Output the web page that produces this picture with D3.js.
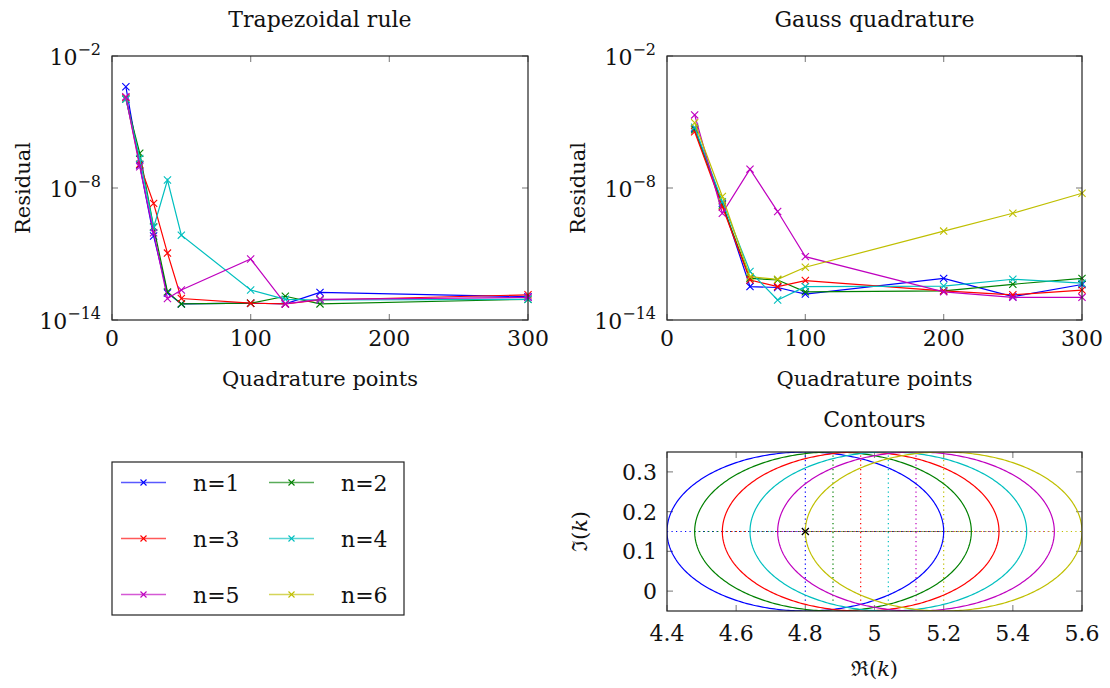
<!DOCTYPE html>
<html>
<head>
<meta charset="utf-8">
<script src="https://cdn.jsdelivr.net/npm/d3@7"></script>
<style>
  html, body { margin: 0; padding: 0; background: #fff; }
  svg { display: block; }
  svg text { font-family: 'DejaVu Serif', serif; }
</style>
</head>
<body>
<svg id="fig" width="1110" height="688"></svg>
<script>
// ---- data ----
const seriesNames = ["n=1", "n=2", "n=3", "n=4", "n=5", "n=6"];
const seriesColors = ["#0000ff", "#008000", "#ff0000", "#00bfbf", "#bf00bf", "#bfbf00"];

// Trapezoidal rule residuals (n=1..5)
const trapPoints = [10, 20, 30, 40, 50, 100, 125, 150, 300];
const trapN1 = [4.0e-4, 1.1e-7, 6.6e-11, 1.7e-13, 5.4e-14, 5.8e-14, 5.4e-14, 1.8e-13, 1.15e-13];
const trapN2 = [1.1e-4, 3.8e-7, 1.7e-10, 1.9e-13, 5.4e-14, 5.8e-14, 1.2e-13, 5.4e-14, 8.7e-14];
const trapN3 = [1.3e-4, 1.2e-7, 2.0e-9, 1.1e-11, 9.5e-14, 5.8e-14, 5.4e-14, 8.1e-14, 1.4e-13];
const trapN4 = [1.1e-4, 2.2e-7, 1.6e-10, 2.3e-8, 7.2e-11, 2.3e-13, 8.7e-14, 8.1e-14, 8.7e-14];
const trapN5 = [1.4e-4, 9.3e-8, 9.3e-11, 9.5e-14, 2.3e-13, 5.9e-12, 5.4e-14, 8.7e-14, 1.07e-13];

// Gauss quadrature residuals (n=1..6)
const gaussPoints = [20, 40, 60, 80, 100, 200, 250, 300];
const gaussN1 = [5.1e-6, 2.0e-9, 3.3e-13, 3.0e-13, 1.5e-13, 7.8e-13, 1.15e-13, 4.1e-13];
const gaussN2 = [4.4e-6, 1.7e-9, 7.8e-13, 6.6e-13, 1.9e-13, 2.1e-13, 4.2e-13, 7.8e-13];
const gaussN3 = [3.6e-6, 1.4e-9, 6.6e-13, 3.3e-13, 6.2e-13, 2.1e-13, 1.4e-13, 2.3e-13];
const gaussN4 = [5.8e-6, 2.4e-9, 1.6e-12, 8.1e-14, 3.3e-13, 3.5e-13, 7.1e-13, 4.7e-13];
const gaussN5 = [2.1e-5, 7.1e-10, 7.2e-8, 8.5e-10, 7.6e-12, 1.9e-13, 1.07e-13, 1.07e-13];
const gaussN6 = [9.3e-6, 4.1e-9, 9.3e-13, 7.1e-13, 2.5e-12, 1.1e-10, 7.1e-10, 5.8e-9];

// Contours: ellipse centres on the real axis, common imaginary centre and radii
const contourCentersRe = [4.8, 4.88, 4.96, 5.04, 5.12, 5.2];
const contourCenterIm = 0.15;
const contourRadiusRe = 0.4;
const contourRadiusIm = 0.2;
const contourPoint = [4.8, 0.15];

// tick labels
const xTicksResidual = [0, 100, 200, 300];
const yTickExponents = [-2, -8, -14];
const xTicksContour = [4.4, 4.6, 4.8, 5, 5.2, 5.4, 5.6];
const yTicksContour = [0, 0.1, 0.2, 0.3];

// ---- drawing ----
const svg = d3.select("#fig");
const FS = 22;
const LFS = 21;
const textColor = "#111";
const frameColor = "#222";
const tickColor = "#8c8c8c";
const TL = 6;

function cross(g, x, y, r, color, width) {
  g.append("path")
    .attr("d", `M${x - r},${y - r}L${x + r},${y + r}M${x - r},${y + r}L${x + r},${y - r}`)
    .attr("stroke", color).attr("stroke-width", width).attr("fill", "none");
}

function label(g, x, y, size, anchor) {
  return g.append("text").attr("x", x).attr("y", y).attr("font-size", size)
    .attr("text-anchor", anchor).attr("fill", textColor);
}

function inwardTicks(g, scale, values, orient, x0, x1, y0, y1) {
  values.forEach(v => {
    const p = scale(v);
    if (orient === "x") {
      g.append("line").attr("x1", p).attr("x2", p).attr("y1", y1).attr("y2", y1 - TL)
        .attr("stroke", tickColor).attr("stroke-width", 1.2);
      g.append("line").attr("x1", p).attr("x2", p).attr("y1", y0).attr("y2", y0 + TL)
        .attr("stroke", tickColor).attr("stroke-width", 1.2);
    } else {
      g.append("line").attr("y1", p).attr("y2", p).attr("x1", x0).attr("x2", x0 + TL)
        .attr("stroke", tickColor).attr("stroke-width", 1.2);
      g.append("line").attr("y1", p).attr("y2", p).attr("x1", x1).attr("x2", x1 - TL)
        .attr("stroke", tickColor).attr("stroke-width", 1.2);
    }
  });
}

function residualPanel(opts) {
  const { x0, x1, y0, y1, title, xs, series } = opts;
  const x = d3.scaleLinear().domain([0, 300]).range([x0, x1]);
  const y = d3.scaleLog().domain([1e-14, 1e-2]).range([y1, y0]);
  const g = svg.append("g");

  // series
  const line = d3.line().x(d => x(d[0])).y(d => y(d[1]));
  series.forEach(s => {
    const pts = xs.map((v, i) => [v, s.values[i]]);
    g.append("path").datum(pts).attr("d", line)
      .attr("fill", "none").attr("stroke", s.color).attr("stroke-width", 1.2);
    pts.forEach(p => cross(g, x(p[0]), y(p[1]), 3.6, s.color, 1.1));
  });

  inwardTicks(g, x, xTicksResidual, "x", x0, x1, y0, y1);
  inwardTicks(g, y, yTickExponents.map(e => Math.pow(10, e)), "y", x0, x1, y0, y1);

  g.append("rect").attr("x", x0).attr("y", y0).attr("width", x1 - x0).attr("height", y1 - y0)
    .attr("fill", "none").attr("stroke", frameColor).attr("stroke-width", 1.2);

  // x tick labels
  xTicksResidual.forEach(v => label(g, x(v), y1 + 26, FS, "middle").text(v));
  // y tick labels 10^e
  yTickExponents.forEach(e => {
    const t = label(g, x0 - 11, y(Math.pow(10, e)) + 9, FS, "end");
    t.append("tspan").text("10");
    t.append("tspan").attr("dy", -10).attr("font-size", 16).text("\u2212" + Math.abs(e));
  });

  label(g, (x0 + x1) / 2, y0 - 29, FS, "middle").text(title);
  label(g, (x0 + x1) / 2, y1 + 66, LFS, "middle").text("Quadrature points");
  label(g, 0, 0, LFS, "middle")
    .attr("transform", `translate(${x0 - 82},${(y0 + y1) / 2}) rotate(-90)`).text("Residual");
}

residualPanel({
  x0: 112, x1: 528, y0: 56, y1: 320, title: "Trapezoidal rule", xs: trapPoints,
  series: [trapN1, trapN2, trapN3, trapN4, trapN5].map((v, i) => ({ values: v, color: seriesColors[i] }))
});
residualPanel({
  x0: 667, x1: 1082, y0: 56, y1: 320, title: "Gauss quadrature", xs: gaussPoints,
  series: [gaussN1, gaussN2, gaussN3, gaussN4, gaussN5, gaussN6].map((v, i) => ({ values: v, color: seriesColors[i] }))
});

// ---- contour panel ----
(function () {
  const x0 = 667, x1 = 1082, y0 = 452, y1 = 611;
  const x = d3.scaleLinear().domain([4.4, 5.6]).range([x0, x1]);
  const y = d3.scaleLinear().domain([-0.05, 0.35]).range([y1, y0]);
  const g = svg.append("g");
  svg.append("clipPath").attr("id", "cclip").append("rect")
    .attr("x", x0).attr("y", y0).attr("width", x1 - x0).attr("height", y1 - y0);

  inwardTicks(g, x, xTicksContour, "x", x0, x1, y0, y1);
  inwardTicks(g, y, yTicksContour, "y", x0, x1, y0, y1);

  const cg = g.append("g").attr("clip-path", "url(#cclip)");
  const theta = d3.range(0, 2 * Math.PI + 0.001, Math.PI / 180);
  const line = d3.line().x(d => x(d[0])).y(d => y(d[1]));
  contourCentersRe.forEach((c, i) => {
    const col = seriesColors[i];
    // dotted axes of each ellipse
    cg.append("path").datum([[c - contourRadiusRe, contourCenterIm], [c + contourRadiusRe, contourCenterIm]])
      .attr("d", line).attr("stroke", col).attr("stroke-width", 1.2)
      .attr("stroke-dasharray", "1.2,3.3").attr("fill", "none");
    cg.append("path").datum([[c, contourCenterIm - contourRadiusIm * 0.87], [c, contourCenterIm + contourRadiusIm]])
      .attr("d", line).attr("stroke", col).attr("stroke-width", 1.2)
      .attr("stroke-dasharray", "1.2,3.3").attr("fill", "none");
  });
  contourCentersRe.forEach((c, i) => {
    const pts = theta.map(t => [c + contourRadiusRe * Math.cos(t), contourCenterIm + contourRadiusIm * Math.sin(t)]);
    cg.append("path").datum(pts).attr("d", line)
      .attr("fill", "none").attr("stroke", seriesColors[i]).attr("stroke-width", 1.2);
  });
  cross(g, x(contourPoint[0]), y(contourPoint[1]), 3.5, "#000", 1.3);

  g.append("rect").attr("x", x0).attr("y", y0).attr("width", x1 - x0).attr("height", y1 - y0)
    .attr("fill", "none").attr("stroke", frameColor).attr("stroke-width", 1.2);

  xTicksContour.forEach(v => label(g, x(v), y1 + 30, FS, "middle").text(v));
  yTicksContour.forEach(v => label(g, x0 - 10, y(v) + 8, FS, "end").text(v));
  label(g, (x0 + x1) / 2, y0 - 25, FS, "middle").text("Contours");
  const xl = label(g, (x0 + x1) / 2, y1 + 65, LFS, "middle");
  xl.append("tspan").text("\u211C(");
  xl.append("tspan").attr("font-style", "italic").text("k");
  xl.append("tspan").text(")");
  const yl = label(g, 0, 0, LFS, "middle")
    .attr("transform", `translate(${x0 - 80},${(y0 + y1) / 2}) rotate(-90)`);
  yl.append("tspan").text("\u2111(");
  yl.append("tspan").attr("font-style", "italic").text("k");
  yl.append("tspan").text(")");
})();

// ---- legend ----
(function () {
  const lx = 112, ly = 462, lw = 292, lh = 153;
  const g = svg.append("g");
  g.append("rect").attr("x", lx).attr("y", ly).attr("width", lw).attr("height", lh)
    .attr("fill", "#fff").attr("stroke", frameColor).attr("stroke-width", 1.2);
  const colX = [121, 269];
  const rowY = [482.5, 538.5, 594.5];
  seriesNames.forEach((name, i) => {
    const cx = colX[i % 2], cy = rowY[Math.floor(i / 2)];
    g.append("line").attr("x1", cx).attr("x2", cx + 45).attr("y1", cy).attr("y2", cy)
      .attr("stroke", seriesColors[i]).attr("stroke-width", 1.3).attr("stroke-opacity", 0.65);
    cross(g, cx + 22.5, cy, 3, seriesColors[i], 1.1);
    label(g, cx + 72, cy + 8, FS, "start").text(name);
  });
})();
</script>
</body>
</html>
